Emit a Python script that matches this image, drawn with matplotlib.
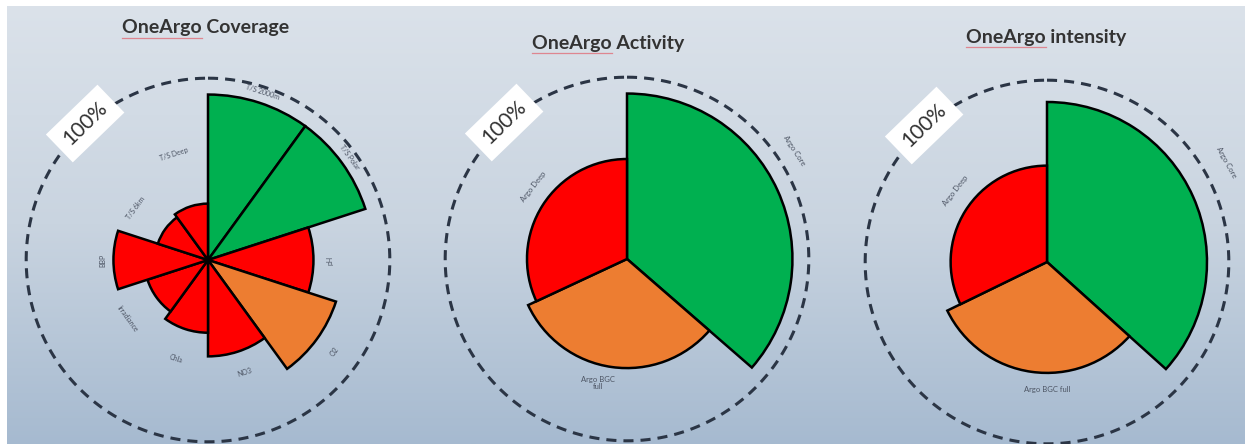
import numpy as np
import matplotlib.pyplot as plt
from matplotlib.colors import to_rgb
from matplotlib.lines import Line2D

plt.rcParams['font.family'] = ['Lato', 'DejaVu Sans']

# --- data ---------------------------------------------------------------
cov_labels = ["T/S 2000m", "T/S Polar", "pH", "O2", "NO3", "Chla",
              "Irradiance", "BBP", "T/S 6km", "T/S Deep"]
cov_values = [91, 91, 58, 74, 53, 40, 35, 52, 29, 31]      # % of target
cov_status = ["good", "good", "poor", "fair", "poor", "poor",
              "poor", "poor", "poor", "poor"]

act_labels = ["Argo Core", "Argo BGC\nfull", "Argo Deep"]
act_span = [131, 114, 115]          # angular share, degrees
act_values = [91, 60, 55]
act_status = ["good", "fair", "poor"]

int_labels = ["Argo Core", "Argo BGC full", "Argo Deep"]
int_span = [132, 112, 116]
int_values = [88, 61, 53]
int_status = ["good", "fair", "poor"]

titles = ["OneArgo Coverage", "OneArgo Activity", "OneArgo intensity"]

# --- style / layout -------------------------------------------------------
colors = {"good": "#00b050", "fair": "#ed7d31", "poor": "#ff0000"}
cov_label_r = [97, 96, 67, 86, 65, 57, 55, 58, 49, 61]
act_label_r = [110, 70, 65]
act_label_t = [57, 193, 308]
int_label_r = [113, 70, 64]
int_label_t = [61, 180, 308]
centers = [(208, 260), (627, 259), (1047, 262)]   # px from top-left
title_pos = [(206, 28), (608, 43), (1046, 37)]
W, H = 1250, 444
S = 400     # polar axes side in px, r=110 -> 200 px
RMAX = 110

fig = plt.figure(figsize=(W / 100, H / 100), dpi=100)
fig.patch.set_facecolor('white')

# background gradient (slide fill)
bg = fig.add_axes([7 / W, 0, (W - 12) / W, (H - 6) / H])
top, mid, bot = [np.array(to_rgb(c)) for c in ("#dbe2ea", "#c9d4e0", "#a6bad0")]
t = np.linspace(0, 1, 300)[:, None]
grad = np.where(t < 0.5, top + (mid - top) * (t / 0.5), mid + (bot - mid) * ((t - 0.5) / 0.5))
bg.imshow(grad[:, None, :], aspect='auto', extent=[0, 1, 0, 1])
bg.set_axis_off()


def make_polar(cx, cy):
    ax = fig.add_axes([(cx - S / 2) / W, (H - cy - S / 2) / H, S / W, S / H],
                      projection='polar')
    ax.set_theta_zero_location('N')
    ax.set_theta_direction(-1)
    ax.set_ylim(0, RMAX)
    ax.set_axis_off()
    ax.patch.set_alpha(0)
    th = np.linspace(0, 2 * np.pi, 400)
    ax.plot(th, np.full_like(th, 100), color='#2b3545', lw=2.2,
            linestyle=(0, (3.3, 2.3)), zorder=1)
    ax.text(np.deg2rad(318), 101, "100%", rotation=44, ha='center', va='center',
            fontsize=15, color='#303030', zorder=5,
            bbox=dict(boxstyle='square,pad=0.45', fc='white', ec='none'))
    return ax


def tang_rot(deg):
    r = -deg
    while r <= -90:
        r += 180
    while r > 90:
        r -= 180
    return r


# panel 1: coverage rose
ax = make_polar(*centers[0])
n = len(cov_values)
step = 360 / n
starts = np.deg2rad(np.arange(n) * step)
ax.bar(starts, cov_values, width=np.deg2rad(step), align='edge',
       color=[colors[s] for s in cov_status], edgecolor='black', linewidth=1.8, zorder=3)
for i, lab in enumerate(cov_labels):
    ang = i * step + step / 2
    ax.text(np.deg2rad(ang), cov_label_r[i], lab, rotation=tang_rot(ang),
            ha='center', va='center', fontsize=5, color='#4d5564')

# panels 2 and 3
for k, (labels, span, vals, status, lr, lt) in enumerate([
        (act_labels, act_span, act_values, act_status, act_label_r, act_label_t),
        (int_labels, int_span, int_values, int_status, int_label_r, int_label_t)]):
    ax = make_polar(*centers[k + 1])
    st = np.concatenate([[0], np.cumsum(span)[:-1]])
    ax.bar(np.deg2rad(st), vals, width=np.deg2rad(span), align='edge',
           color=[colors[s] for s in status], edgecolor='black', linewidth=1.8, zorder=3)
    for i, lab in enumerate(labels):
        rot = 0 if 150 < lt[i] < 210 else tang_rot(lt[i])
        ax.text(np.deg2rad(lt[i]), lr[i], lab, rotation=rot, ha='center', va='center',
                fontsize=5.5, color='#4d5564', linespacing=1.0)

# titles, with the spell-check underline under "OneArgo"
renderer = fig.canvas.get_renderer()
for (x, y), ttl in zip(title_pos, titles):
    txt = fig.text(x / W, 1 - y / H, ttl, ha='center', va='center', fontsize=14,
                   fontweight='bold', color='#333333')
    bb = txt.get_window_extent(renderer)
    probe = fig.text(0, 0, ttl.split()[0], fontsize=14, fontweight='bold')
    wword = probe.get_window_extent(renderer).width
    probe.remove()
    yl = (bb.y0 - 2) / H
    fig.add_artist(Line2D([bb.x0 / W, (bb.x0 + wword) / W], [yl, yl],
                          color='#e0707a', lw=0.9, alpha=0.8))

fig.savefig('out.png', dpi=100)
